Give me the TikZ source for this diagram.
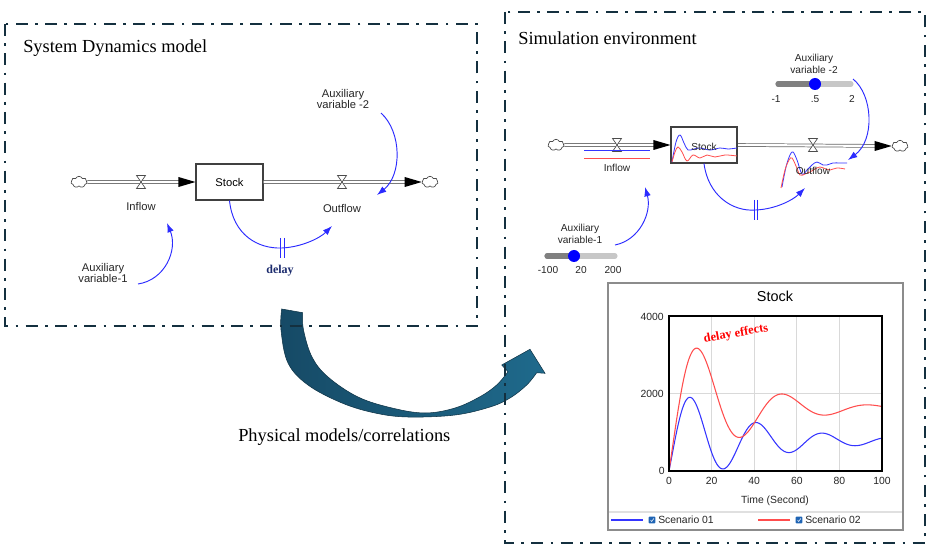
\documentclass[tikz,border=0pt]{standalone}
\usepackage{fontspec}
\setmainfont{Liberation Serif}
\setsansfont{Liberation Sans}
\usetikzlibrary{arrows.meta,shapes.symbols}

\definecolor{framecol}{HTML}{14303F}
\definecolor{linkblue}{HTML}{2B2BFF}
\definecolor{plotblue}{HTML}{3535FF}
\definecolor{plotred}{HTML}{FF4D4D}
\definecolor{arrowdark}{HTML}{164A66}
\definecolor{arrowlight}{HTML}{1F6A8C}
\definecolor{delaynavy}{HTML}{1C2C6E}
\definecolor{checkblue}{HTML}{1F64B4}

\tikzset{
  border/.style={draw=framecol, line width=2.2pt, dash pattern=on 9pt off 5.5pt on 2pt off 5.5pt},
  titletext/.style={font=\fontsize{13.8}{16}\selectfont, anchor=west, inner sep=0pt},
  lab/.style={font=\sffamily\fontsize{8.4}{8.4}\selectfont, text=black!85, align=center, inner sep=0pt},
  labR/.style={font=\sffamily\fontsize{7.6}{9}\selectfont, text=black!85, align=center, inner sep=0pt},
  tick/.style={font=\sffamily\fontsize{7.8}{9}\selectfont, text=black!85, inner sep=0pt},
  stockbox/.style={draw=black!75, line width=0.8pt, fill=white, font=\sffamily\fontsize{8.4}{9}\selectfont, inner sep=0pt},
  pipe/.style={draw=black!60, line width=0.55pt, double=white, double distance=1.6pt},
  cloudn/.style={cloud, cloud puffs=7, cloud puff arc=130, aspect=1.4, draw=black!70, fill=white,
    line width=0.5pt, inner sep=0pt, minimum width=12pt, minimum height=8.5pt},
  link/.style={draw=linkblue, line width=0.7pt, -{Latex[length=7pt,width=5pt]}},
  delaybar/.style={draw=linkblue, line width=0.7pt},
  trace/.style={line width=0.6pt},
  slidertrack/.style={line width=3.8pt, line cap=round},
  knob/.style={circle, fill=blue, minimum size=9pt, inner sep=0pt},
  checkbox/.style={fill=checkblue, minimum size=5pt, inner sep=0pt, rounded corners=0.6pt},
  valve/.pic={\draw[black!70, fill=white, line width=0.5pt] (-4.5,-6.5) -- (4.5,-6.5) -- (-4.5,6.5) -- (4.5,6.5) -- cycle;},
  flowhead/.pic={\fill[black] (0,0) -- (-17,-5) -- (-17,5) -- cycle;},
}

% stock trajectories of the two scenarios
\def\blueval{(780*(1-exp(-0.028*\x)*cos(11.61*\x))+1270*exp(-0.028*\x)*sin(11.61*\x))}
\def\redval{(1620*(1-exp(-0.036*\x)*cos(9*\x))+1952*exp(-0.036*\x)*sin(9*\x))}

\begin{document}
\begin{tikzpicture}[x=0.75pt,y=-0.75pt]
\useasboundingbox (0,0) rectangle (929,545);
\fill[white] (0,0) rectangle (929,545);

% curved transfer arrow between the two panels
\shadedraw[left color=arrowdark, right color=arrowlight, draw=arrowdark!70!black, line width=0.4pt]
  plot[smooth, tension=0.6] coordinates {(281.7,309) (281,330) (288,363) (308,385) (342,403) (375,413)
    (408,417) (455,415) (490,407) (510,398) (526.7,385) (536.7,372.7)}
  -- (545,373.3) -- (530,349.3) -- (501.7,365)
  -- plot[smooth, tension=0.6] coordinates {(508,371.7) (496.7,385) (480,396.7) (455,408) (425,413)
    (392,408) (358,397) (328,377) (312,357) (303.5,330) (302.7,312.7)}
  -- cycle;

% panel frames
\draw[border] (5,24) rectangle (477,326);
\draw[border] (505,12) rectangle (925,543);

\node[titletext] (t1) at (23,48) {System Dynamics model};
\node[titletext] (t2) at (518,38) {Simulation environment};
\node[titletext] (t3) at (238,437) {Physical models/correlations};

% ---------------- System Dynamics model ----------------
\node[cloudn] (lc1) at (79,182) {};
\node[stockbox, minimum width=50.25pt, minimum height=27pt] (ls) at (229.5,182) {Stock};
\node[cloudn] (lc2) at (430,182) {};
\draw[pipe, shorten >=11pt] (lc1.east) -- (ls.west);
\pic at (ls.west) {flowhead};
\draw[pipe, shorten >=11pt] (ls.east) -- (lc2.west);
\pic at (lc2.west) {flowhead};
\pic at (141,182) {valve};
\pic at (342,182) {valve};

\node[lab] (lin) at (141,206) {Inflow};
\node[lab] (lout) at (342,208) {Outflow};
\node[lab] (la2) at (343,99) {Auxiliary\\variable -2};
\node[lab] (la1) at (103,273) {Auxiliary\\variable-1};
\node[font=\bfseries\fontsize{9}{10}\selectfont, text=delaynavy, inner sep=0pt] (ldelay) at (280,271) {delay};

\coordinate (la2s) at (381,113);
\coordinate (la2e) at (377,195);
\coordinate (la1s) at (138,284);
\coordinate (la1e) at (167,223);
\coordinate (lde) at (332,226);
\draw[link] (la2s) .. controls (402,132) and (402,175) .. (la2e);
\draw[link] (la1s) .. controls (165,280) and (178,250) .. (la1e);
\draw[link] (ls.south) .. controls (233,235) and (258,249) .. (282,248) .. controls (302,247) and (320,238) .. (lde);
\draw[delaybar] (280.5,238) -- (280.5,258) (284,238) -- (284,258);

% ---------------- Simulation environment ----------------
\node[cloudn] (rc1) at (556,145) {};
\node[stockbox, minimum width=49.5pt, minimum height=27pt] (rs) at (704,145) {};
\node[cloudn] (rc2) at (900,146) {};
\draw[pipe, shorten >=11pt] (rc1.east) -- (rs.west);
\pic at (rs.west) {flowhead};
\draw[pipe, shorten >=11pt] (rs.east) -- (rc2.west);
\pic at (rc2.west) {flowhead};
\pic at (617,145) {valve};
\pic at (813,145) {valve};

% inflow traces
\draw[trace, plotblue] (584,150) -- (650,150);
\draw[trace, plotred] (584,158) -- (650,158);

% stock traces inside the level box
\draw[trace, plotblue] plot[smooth, tension=0.6] coordinates {(672,162) (676,142) (680,135) (684,143)
  (688,150) (694,149) (700,148) (710,150) (720,148) (728,149) (737,148)};
\draw[trace, plotred] plot[smooth, tension=0.6] coordinates {(672,162) (675,152) (678,147) (682,152)
  (687,161) (693,155) (700,158) (707,155) (715,157) (725,155) (737,156)};
\draw[black!75, line width=0.8pt] (rs.south west) rectangle (rs.north east);
\node[labR] (rst) at (704,147) {Stock};

% outflow traces
\draw[trace, plotblue] plot[smooth, tension=0.6] coordinates {(782,187) (786,167) (790,155) (793,152)
  (797,160) (802,174) (807,170) (812,165) (817,162) (823,165) (827,165) (833,163) (840,163) (847,163)};
\draw[trace, plotred] plot[smooth, tension=0.6] coordinates {(781,188) (785,170) (789,160) (792,158)
  (796,166) (800,175) (805,174) (810,172) (815,169) (820,167) (826,169) (830,170) (837,168) (845,169)};

\node[labR] (rin) at (617,168) {Inflow};
\node[labR] (rout) at (813,171) {Outflow};

% slider of auxiliary variable -2
\node[labR] (ra2) at (814,64) {Auxiliary\\variable -2};
\draw[slidertrack, black!22] (778,84) -- (851,84);
\draw[slidertrack, black!50] (778,84) -- (815,84);
\node[knob] (k2) at (815,84) {};
\node[labR] (k2a) at (776,99) {-1};
\node[labR] (k2b) at (815,99) {.5};
\node[labR] (k2c) at (852,99) {2};

% slider of auxiliary variable-1
\node[labR] (ra1) at (580,234) {Auxiliary\\variable-1};
\draw[slidertrack, black!22] (547,256) -- (615,256);
\draw[slidertrack, black!50] (547,256) -- (574,256);
\node[knob] (k1) at (574,256) {};
\node[labR] (k1a) at (548,270) {-100};
\node[labR] (k1b) at (581,270) {20};
\node[labR] (k1c) at (613,270) {200};

\coordinate (ra2s) at (853,79);
\coordinate (ra2e) at (848,160);
\coordinate (ra1s) at (615,245);
\coordinate (ra1e) at (645,187);
\coordinate (rde) at (805,188);
\draw[link] (ra2s) .. controls (873,95) and (875,140) .. (ra2e);
\draw[link] (ra1s) .. controls (640,240) and (652,212) .. (ra1e);
\draw[link] (rs.south) .. controls (708,195) and (732,212) .. (756,210) .. controls (776,209) and (793,200) .. (rde);
\draw[delaybar] (754,200) -- (754,220) (757.5,200) -- (757.5,220);

% ---------------- Stock graph ----------------
\node[draw=black!45, line width=0.8pt, minimum width=221.25pt, minimum height=185.25pt, inner sep=0pt] (chart) at (755.5,406.5) {};
\node[font=\sffamily\fontsize{10.8}{12}\selectfont, inner sep=0pt] (ctitle) at (775,296) {Stock};

\foreach \gx in {711.6,754.2,796.8,839.4}
  \draw[black!15, line width=1pt] (\gx,316) -- (\gx,471);
\draw[black!15, line width=1pt] (669,393.5) -- (882,393.5);

\begin{scope}
  \clip (669,316) rectangle (882,471);
  \draw[plotblue, line width=0.8pt] plot[domain=0:100, samples=160, smooth]
    ({669+2.13*\x},{471-0.03875*\blueval});
  \draw[plotred, line width=0.8pt] plot[domain=0:100, samples=160, smooth]
    ({669+2.13*\x},{471-0.03875*\redval});
\end{scope}
\node[draw=black, line width=1.1pt, minimum width=159.75pt, minimum height=116.25pt, inner sep=0pt] (plotarea) at (775.5,393.5) {};

\node[tick, anchor=east] (y4) at (664,317) {4000};
\node[tick, anchor=east] (y2) at (664,393.5) {2000};
\node[tick, anchor=east] (y0) at (665,471) {0};
\foreach \t/\gx in {0/669,20/711.6,40/754.2,60/796.8,80/839.4,100/882}
  \node[tick] (x\t) at (\gx,481) {\t};
\node[tick] (xlab) at (775,501) {Time (Second)};

\node[rotate=10, text=red, font=\bfseries\fontsize{9.3}{10}\selectfont, inner sep=0pt] (deff) at (736,334) {delay effects};

% legend
\draw[black!12, line width=1.2pt] (609,512) -- (902,512);
\draw[plotblue, line width=1.1pt] (611,520) -- (643,520);
\node[checkbox] (cb1) at (652,520) {};
\draw[white, line width=0.4pt] (650.5,520) -- (651.7,521.5) -- (653.8,518.5);
\node[tick, anchor=west] (s1) at (658,520) {Scenario 01};
\draw[plotred, line width=1.1pt] (758,520) -- (790,520);
\node[checkbox] (cb2) at (799,520) {};
\draw[white, line width=0.4pt] (797.5,520) -- (798.7,521.5) -- (800.8,518.5);
\node[tick, anchor=west] (s2) at (805,520) {Scenario 02};
\end{tikzpicture}
\end{document}
